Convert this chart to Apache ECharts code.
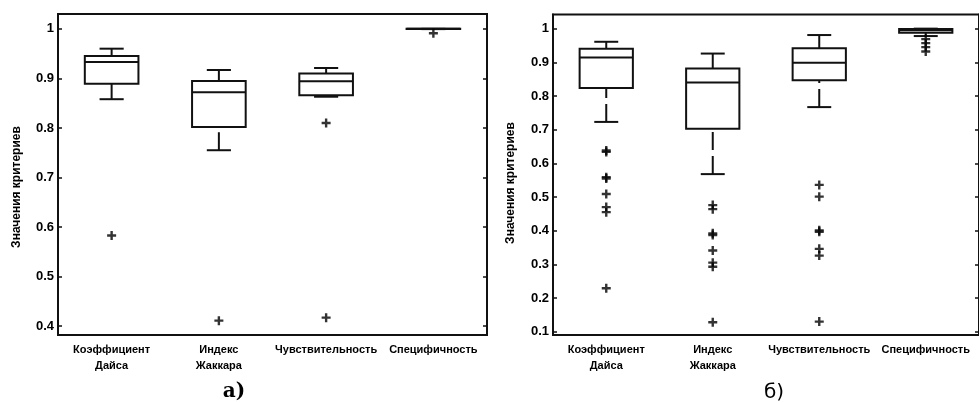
<!DOCTYPE html>
<html>
<head>
<meta charset="utf-8">
<script src="https://cdn.jsdelivr.net/npm/echarts@6/dist/echarts.min.js"></script>
<style>
html,body{margin:0;padding:0;background:#fff;}
#c{width:979px;height:403px;}
</style>
</head>
<body>
<div id="c"></div>
<script>
// ---- data ----
var categories = ['Коэффициент\nДайса', 'Индекс\nЖаккара', 'Чувствительность', 'Специфичность'];
var axisTitle = 'Значения критериев';
var panelLabels = ['а)', 'б)'];

// [whiskerLow, Q1, median, Q3, whiskerHigh] per category
var boxA = [
  [0.858, 0.889, 0.933, 0.945, 0.960],
  [0.755, 0.802, 0.872, 0.895, 0.917],
  [0.863, 0.866, 0.894, 0.910, 0.921],
  [0.9995, 0.9998, 1.0, 1.0, 1.0]
];
var outliersA = [[0, 0.583], [1, 0.411], [2, 0.810], [2, 0.417], [3, 0.991]];
var ticksA = [0.4, 0.5, 0.6, 0.7, 0.8, 0.9, 1];

var boxB = [
  [0.723, 0.824, 0.914, 0.940, 0.961],
  [0.568, 0.703, 0.840, 0.882, 0.926],
  [0.767, 0.847, 0.899, 0.942, 0.981],
  [0.978, 0.988, 0.995, 0.999, 1.0]
];
var outliersB = [
  [0, 0.638], [0, 0.634], [0, 0.559], [0, 0.555], [0, 0.509], [0, 0.470], [0, 0.455], [0, 0.229],
  [1, 0.476], [1, 0.464], [1, 0.392], [1, 0.387], [1, 0.341], [1, 0.305], [1, 0.293], [1, 0.128],
  [2, 0.536], [2, 0.501], [2, 0.401], [2, 0.397], [2, 0.346], [2, 0.326], [2, 0.130],
  [3, 0.969], [3, 0.957], [3, 0.945], [3, 0.932]
];
var ticksB = [0.1, 0.2, 0.3, 0.4, 0.5, 0.6, 0.7, 0.8, 0.9, 1];

// ---- chart ----
var chart = echarts.init(document.getElementById('c'));
var INK = '#111';
var LW = 2;

function boxData(arr) {
  return arr.map(function (b, i) { return [i].concat(b); });
}

function renderBox(params, api) {
  var x = api.value(0);
  var lo = api.coord([x, api.value(1)]);
  var q1 = api.coord([x, api.value(2)]);
  var md = api.coord([x, api.value(3)]);
  var q3 = api.coord([x, api.value(4)]);
  var hi = api.coord([x, api.value(5)]);
  var bw = api.size([1, 0])[0] * 0.5;
  var cw = bw * 0.45;
  var cx = lo[0];
  var st = { stroke: INK, lineWidth: LW, fill: null };
  var dash = { stroke: INK, lineWidth: LW, lineDash: [18, 6] };
  return {
    type: 'group',
    children: [
      { type: 'line', shape: { x1: cx, y1: lo[1], x2: cx, y2: q1[1] }, style: dash },
      { type: 'line', shape: { x1: cx, y1: hi[1], x2: cx, y2: q3[1] }, style: dash },
      { type: 'line', shape: { x1: cx - cw / 2, y1: lo[1], x2: cx + cw / 2, y2: lo[1] }, style: st },
      { type: 'line', shape: { x1: cx - cw / 2, y1: hi[1], x2: cx + cw / 2, y2: hi[1] }, style: st },
      { type: 'rect', shape: { x: cx - bw / 2, y: q3[1], width: bw, height: q1[1] - q3[1] }, style: { stroke: INK, lineWidth: LW, fill: '#fff' } },
      { type: 'line', shape: { x1: cx - bw / 2, y1: md[1], x2: cx + bw / 2, y2: md[1] }, style: st }
    ]
  };
}

var plusPath = 'path://M0,3.3H9V5.7H0ZM3.3,0H5.7V9H3.3Z';

function yAxes(gi, min, max, ticks) {
  var lab = {
    customValues: ticks,
    color: '#000', fontWeight: 'bold', fontSize: 13,
    fontFamily: 'Liberation Sans, Arial, sans-serif',
    margin: 4,
    formatter: function (v) { return String(v); }
  };
  return [
    {
      type: 'value', gridIndex: gi, min: min, max: max, position: 'left',
      axisLine: { show: true, lineStyle: { color: INK, width: 2 } },
      axisTick: { show: true, inside: true, length: 4, customValues: ticks, lineStyle: { color: INK, width: 1.5 } },
      axisLabel: lab,
      splitLine: { show: false }
    },
    {
      type: 'value', gridIndex: gi, min: min, max: max, position: 'right',
      axisLine: { show: true, lineStyle: { color: INK, width: 2 } },
      axisTick: { show: true, inside: true, length: 4, customValues: ticks, lineStyle: { color: INK, width: 1.5 } },
      axisLabel: { show: false },
      splitLine: { show: false }
    }
  ];
}

function xAxis(gi) {
  return {
    type: 'category', gridIndex: gi, data: categories, boundaryGap: true,
    axisLine: { show: true, lineStyle: { color: INK, width: 2 } },
    axisTick: { show: false },
    axisLabel: {
      interval: 0, color: '#000', fontWeight: 'bold', fontSize: 11,
      fontFamily: 'Liberation Sans, Arial, sans-serif', lineHeight: 16, margin: 7
    }
  };
}

var option = {
  animation: false,
  backgroundColor: '#fff',
  grid: [
    { left: 58, top: 14, width: 429, height: 321, show: true, borderColor: INK, borderWidth: 2, backgroundColor: 'transparent' },
    { left: 553, top: 14.5, width: 430, height: 320.5, show: true, borderColor: INK, borderWidth: 2, backgroundColor: 'transparent' }
  ],
  xAxis: [xAxis(0), xAxis(1)],
  yAxis: yAxes(0, 0.382, 1.03, ticksA).concat(yAxes(1, 0.0902, 1.042, ticksB)),
  series: [
    { type: 'custom', xAxisIndex: 0, yAxisIndex: 0, data: boxData(boxA), renderItem: renderBox, encode: { x: 0, y: [1, 2, 3, 4, 5] } },
    { type: 'scatter', xAxisIndex: 0, yAxisIndex: 0, data: outliersA, symbol: plusPath, symbolSize: 9, itemStyle: { color: '#000' } },
    { type: 'custom', xAxisIndex: 1, yAxisIndex: 2, data: boxData(boxB), renderItem: renderBox, encode: { x: 0, y: [1, 2, 3, 4, 5] } },
    { type: 'scatter', xAxisIndex: 1, yAxisIndex: 2, data: outliersB, symbol: plusPath, symbolSize: 9, itemStyle: { color: '#000' } }
  ],
  graphic: [
    { type: 'text', x: 17, y: 187, rotation: Math.PI / 2,
      style: { text: axisTitle, fill: '#000', font: 'bold 12px "Liberation Sans", Arial, sans-serif', textAlign: 'center', textVerticalAlign: 'middle' } },
    { type: 'text', x: 511, y: 183, rotation: Math.PI / 2,
      style: { text: axisTitle, fill: '#000', font: 'bold 12px "Liberation Sans", Arial, sans-serif', textAlign: 'center', textVerticalAlign: 'middle' } },
    { type: 'text', x: 234, y: 392,
      style: { text: panelLabels[0], fill: '#000', font: 'bold 20px "DejaVu Serif", "Liberation Serif", serif', textAlign: 'center', textVerticalAlign: 'middle' } },
    { type: 'text', x: 774, y: 393,
      style: { text: panelLabels[1], fill: '#000', font: '20px "DejaVu Sans", "Liberation Sans", sans-serif', textAlign: 'center', textVerticalAlign: 'middle' } }
  ]
};
chart.setOption(option);
</script>
</body>
</html>
